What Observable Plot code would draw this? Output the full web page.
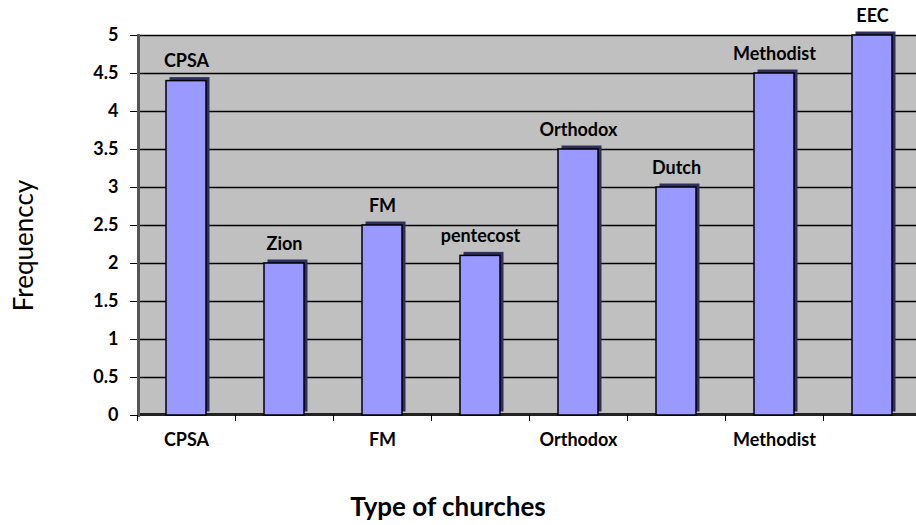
<!DOCTYPE html>
<html>
<head>
<meta charset="utf-8">
<script src="https://cdn.jsdelivr.net/npm/d3@7"></script>
<script src="https://cdn.jsdelivr.net/npm/@observablehq/plot@0.6"></script>
<style>
  html, body { margin: 0; padding: 0; background: #fff; overflow: hidden; }
</style>
</head>
<body>
<div id="chart"></div>
<script>
const churches = ["CPSA", "Zion", "FM", "pentecost", "Orthodox", "Dutch", "Methodist", "EEC"];
const frequency = [4.4, 2.0, 2.5, 2.1, 3.5, 3.0, 4.5, 5.0];
const xTickLabels = ["CPSA", "FM", "Orthodox", "Methodist"];
const yTicks = [0, 0.5, 1, 1.5, 2, 2.5, 3, 3.5, 4, 4.5, 5];
const xTitle = "Type of churches";
const yTitle = "Frequenccy";

const data = churches.map((c, i) => ({church: c, value: frequency[i]}));

const W = 916, H = 525;
const left = 137, step = 98;

const chart = Plot.plot({
  width: W,
  height: H,
  marginLeft: left,
  marginRight: 0,
  marginTop: 35,
  marginBottom: 110,
  style: {fontFamily: "Lato, sans-serif", fontSize: "18px", fontWeight: "bold", color: "#000", background: "#fff"},
  x: {domain: churches, range: [left, left + step * churches.length], paddingInner: 0.59, paddingOuter: 0.295},
  y: {domain: [0, 5]},
  marks: [
    Plot.frame({fill: "#C0C0C0"}),
    Plot.ruleY(yTicks.filter(d => d > 0), {stroke: "#000", strokeWidth: 1.3}),
    Plot.ruleY([0], {stroke: "#222", strokeWidth: 3, dy: -1}),
    Plot.frame({anchor: "left", stroke: "#555", strokeWidth: 3, dx: 1}),
    Plot.barY(data, {x: "church", y: "value", fill: "#2f2f5e", dx: 3.5, dy: -3.5}),
    Plot.barY(data, {x: "church", y: "value", fill: "#9999FF", stroke: "#000", strokeWidth: 1.5}),
    Plot.text(data, {x: "church", y: "value", text: "church", dy: -14, lineAnchor: "bottom", fontWeight: "bold"}),
    Plot.axisY(yTicks, {tickSize: 7, tickPadding: 12, fontWeight: "bold", stroke: "#000", label: null, tickFormat: d => String(d)}),
    Plot.axisX(churches, {tickSize: 6, tickPadding: 0, tickFormat: () => "", dx: -step / 2, label: null}),
    Plot.axisX(xTickLabels, {tickSize: 0, tickPadding: 18, fontWeight: "bold", label: null}),
    Plot.text([xTitle], {frameAnchor: "bottom", dy: 100, dx: -79, lineAnchor: "bottom", fontSize: 26, fontWeight: "bold"}),
    Plot.text([yTitle], {frameAnchor: "left", rotate: -90, textAnchor: "middle", dx: -113, dy: 20, fontSize: 26, fontWeight: "normal"})
  ]
});
document.getElementById("chart").appendChild(chart);
</script>
</body>
</html>
